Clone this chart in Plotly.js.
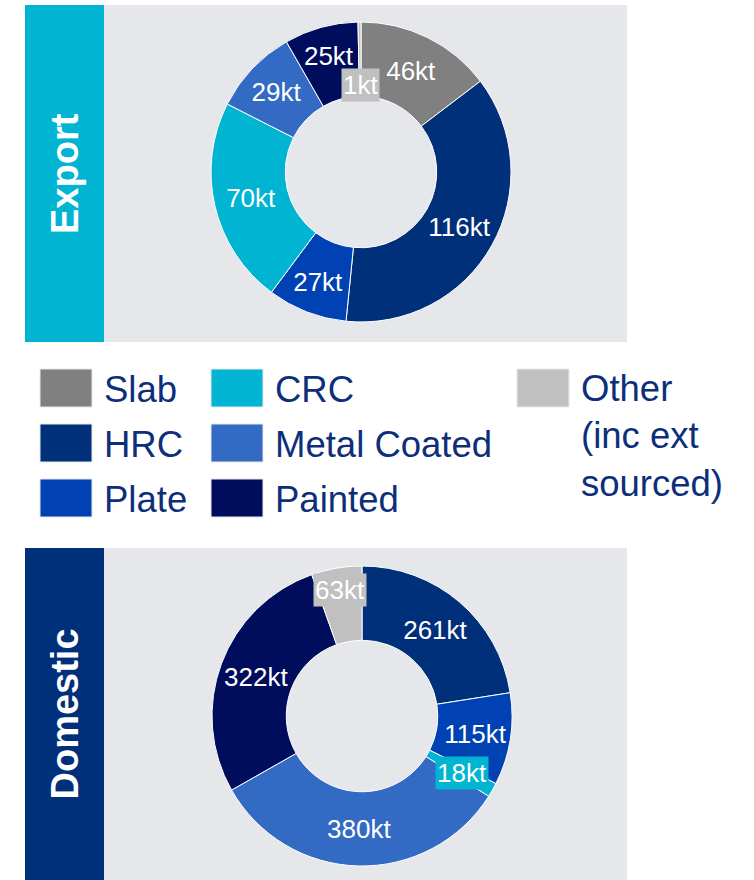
<!DOCTYPE html>
<html>
<head>
<meta charset="utf-8">
<script src="https://cdn.plot.ly/plotly-3.0.1.min.js"></script>
<style>html,body{margin:0;padding:0;background:#fff;}#chart{width:754px;height:880px;}</style>
</head>
<body>
<div id="chart"></div>
<script>
// ---- data ----
var categories = ['Slab', 'HRC', 'Plate', 'CRC', 'Metal Coated', 'Painted', 'Other'];
var legendLabels = ['Slab', 'HRC', 'Plate', 'CRC', 'Metal Coated', 'Painted', 'Other<br>(inc ext<br>sourced)'];
var exportValues = [46, 116, 27, 70, 29, 25, 1];
var domesticValues = [0, 261, 115, 18, 380, 322, 63];
var panelTitles = ['Export', 'Domestic'];
var unit = 'kt';

// ---- styles ----
var colors = ['#808080', '#00307a', '#0041b3', '#00b4d2', '#336ac4', '#000c5c', '#c0c0c0'];
var W = 754, H = 880;
var FONT = 'Arial, "Liberation Sans", sans-serif';
var navyText = '#0d2f7a';
function X(p) { return p / W; }
function Y(p) { return 1 - p / H; }

// donut geometry (pixels)
var donuts = [
  { values: exportValues, cx: 361, cy: 172, r: 150, boxed: { 6: 0.58 } },
  { values: domesticValues, cx: 362, cy: 716, r: 150, boxed: { 3: 0.77, 6: 0.85 } }
];

var traces = [];
var annotations = [];
donuts.forEach(function (d) {
  var text = d.values.map(function (v, i) {
    if (v === 0 || d.boxed[i] !== undefined) return '';
    return v + unit;
  });
  traces.push({
    type: 'pie',
    labels: categories,
    values: d.values,
    text: text,
    textinfo: 'text',
    textposition: 'inside',
    insidetextorientation: 'horizontal',
    textfont: { family: FONT, size: 26, color: '#ffffff' },
    sort: false,
    direction: 'clockwise',
    rotation: 0,
    hole: 0.505,
    marker: { colors: colors, line: { color: '#ffffff', width: 1 } },
    domain: { x: [X(d.cx - d.r), X(d.cx + d.r)], y: [Y(d.cy + d.r), Y(d.cy - d.r)] },
    showlegend: false,
    hoverinfo: 'none'
  });
  // boxed labels for thin slices, placed at the slice mid-angle
  var total = d.values.reduce(function (a, b) { return a + b; }, 0);
  var cum = 0;
  d.values.forEach(function (v, i) {
    if (d.boxed[i] !== undefined) {
      var th = (cum + v / 2) / total * 2 * Math.PI;
      var rr = d.r * d.boxed[i];
      annotations.push({
        xref: 'paper', yref: 'paper',
        x: X(d.cx + rr * Math.sin(th)), y: Y(d.cy - rr * Math.cos(th)),
        xanchor: 'center', yanchor: 'middle',
        text: v + unit, showarrow: false,
        font: { family: FONT, size: 26, color: '#ffffff' },
        bgcolor: colors[i], borderpad: 1
      });
    }
    cum += v;
  });
});

// panels
var panels = [
  { y0: 5, y1: 342, bar: '#00b4d2' },
  { y0: 548, y1: 880, bar: '#00307a' }
];
var shapes = [];
panels.forEach(function (p, k) {
  shapes.push({ type: 'rect', xref: 'paper', yref: 'paper', layer: 'below',
    x0: X(104), x1: X(627), y0: Y(p.y1), y1: Y(p.y0), fillcolor: '#e6e7eb', line: { width: 0 } });
  shapes.push({ type: 'rect', xref: 'paper', yref: 'paper', layer: 'below',
    x0: X(25), x1: X(104), y0: Y(p.y1), y1: Y(p.y0), fillcolor: p.bar, line: { width: 0 } });
  annotations.push({
    xref: 'paper', yref: 'paper', x: X(64.5), y: Y((p.y0 + p.y1) / 2),
    xanchor: 'center', yanchor: 'middle', textangle: -90, showarrow: false,
    text: '<b>' + panelTitles[k] + '</b>',
    font: { family: FONT, size: 38, color: '#ffffff' }
  });
});

// legend (manual)
var legPos = [[0, 0], [0, 1], [0, 2], [1, 0], [1, 1], [1, 2], [2, 0]];
var colX = [40, 211, 517];
var rowY = [369, 424, 479];
var sw = 52, sh = 38;
categories.forEach(function (c, i) {
  var cx = colX[legPos[i][0]], cy = rowY[legPos[i][1]];
  shapes.push({ type: 'rect', xref: 'paper', yref: 'paper',
    x0: X(cx), x1: X(cx + sw), y0: Y(cy + sh), y1: Y(cy), fillcolor: colors[i],
    line: { color: '#e8e8ee', width: 1 } });
  var multi = legendLabels[i].indexOf('<br>') >= 0;
  annotations.push({
    xref: 'paper', yref: 'paper', x: X(cx + 62), y: multi ? Y(cy - 3) : Y(cy + sh / 2 + 1),
    xanchor: 'left', yanchor: multi ? 'top' : 'middle', align: 'left', showarrow: false,
    text: legendLabels[i],
    font: { family: FONT, size: 36.5, color: navyText }
  });
});

var layout = {
  width: W, height: H,
  margin: { l: 0, r: 0, t: 0, b: 0, pad: 0 },
  paper_bgcolor: '#ffffff', plot_bgcolor: '#ffffff',
  showlegend: false,
  shapes: shapes,
  annotations: annotations
};
Plotly.newPlot('chart', traces, layout, { displayModeBar: false, staticPlot: true });
</script>
</body>
</html>
